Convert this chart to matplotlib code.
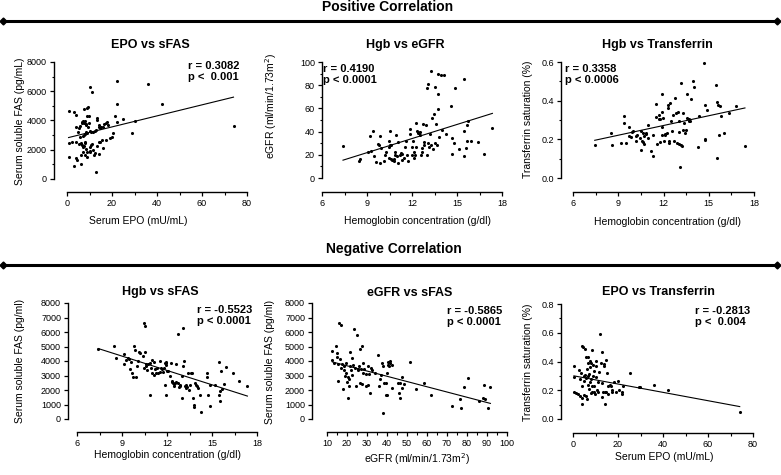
import matplotlib
matplotlib.use("Agg")
import matplotlib.pyplot as plt
from matplotlib.lines import Line2D
from matplotlib.ticker import MultipleLocator
import numpy as np

plt.rcParams['font.family'] = ['Liberation Sans', 'DejaVu Sans']

# ---------------- data ----------------
# Panel 1: EPO vs sFAS
p1_x = [0.7, 3.2, 4.0, 0.7, 2.4, 4.1, 5.3, 6.2, 6.8, 7.8, 8.1, 0.7, 4.1, 4.4, 6.3, 6.3, 3.2, 4.1, 4.7, 5.5,
        5.9, 6.5, 6.8, 7.1, 7.4, 8.0, 8.3, 8.6, 9.2, 9.6, 8.9, 9.7, 7.7, 8.9, 9.2, 10.3, 11.2, 5.9, 6.9, 7.4,
        7.8, 8.3, 8.9, 10.3, 10.8, 11.5, 12.3, 12.8, 13.3, 13.4, 14.0, 14.3, 14.8, 15.1, 15.8, 16.5, 17.3, 17.7, 18.0, 7.1,
        7.7, 8.6, 8.9, 10.0, 10.3, 10.6, 11.1, 11.4, 12.3, 13.3, 14.0, 14.8, 15.5, 16.2, 17.3, 19.2, 19.9, 20.4, 7.1, 8.0,
        8.9, 10.3, 12.1, 14.2, 13.0, 22.1, 22.1, 21.5, 22.1, 25.1, 30.0, 28.8, 36.2, 42.2, 74.0]
p1_y = [4663, 4549, 4343, 2446, 2560, 2514, 2377, 2446, 2331, 2446, 2514, 1531, 1417, 1280, 1646, 1029, 891, 3589, 3246, 3520,
        3657, 3817, 3931, 3977, 3817, 3977, 3749, 3703, 3589, 3817, 4274, 4297, 4800, 4846, 4914, 6286, 5920, 2903, 2949, 3017,
        3063, 3246, 3131, 3291, 3200, 3200, 3269, 3360, 4160, 4046, 3703, 3589, 3474, 3589, 3589, 3749, 3817, 3931, 3703, 2217,
        2263, 2057, 1874, 1920, 2217, 2331, 2377, 1989, 1760, 2286, 2560, 2514, 2674, 2103, 2674, 2789, 2903, 3131, 1874, 1646,
        1509, 1829, 1646, 1737, 503, 6720, 5120, 4274, 3931, 4114, 3977, 3131, 6514, 5143, 3657]
p1_fit = [37.7, 2808]  # slope, intercept

# Panel 2: Hgb vs eGFR
p2_x = [7.40, 8.49, 8.56, 9.09, 9.27, 9.20, 9.40, 9.49, 9.62, 9.76, 9.80, 9.89, 9.89, 9.93, 10.16, 10.22, 10.29, 10.47,
        10.47, 10.51, 10.49, 10.56, 10.60, 10.62, 10.69, 10.78, 10.82, 10.87, 10.89, 10.96, 10.98, 11.04, 11.09, 11.18,
        11.27, 11.31, 11.36, 11.47, 11.53, 11.58, 11.67, 11.76, 11.84, 11.89, 11.98, 11.98, 12.07, 12.11, 12.13, 12.22,
        12.24, 12.29, 12.33, 12.38, 12.42, 12.47, 12.51, 12.53, 12.60, 12.64, 12.64, 12.73, 12.82, 12.82, 12.96, 13.0,
        13.02, 13.04, 13.09, 13.13, 13.18, 13.27, 13.27, 13.31, 13.38, 13.44, 13.53, 13.53, 13.60, 13.67, 13.73, 13.76,
        13.76, 13.8, 13.93, 13.98, 14.16, 14.24, 14.6, 14.64, 14.67, 14.78, 14.87, 15.16, 15.44, 15.44, 15.49, 15.58,
        15.67, 15.76, 15.67, 15.93, 16.38, 16.82, 17.36]
p2_y = [27.3, 14.9, 16.4, 22.1, 23.0, 35.9, 40.8, 19.3, 13.8, 29.3, 28.2, 12.9, 35.9, 25.9, 14.9, 20.1, 22.1, 17.0,
        31.9, 40.2, 26.4, 28.2, 16.4, 28.7, 15.5, 16.7, 14.9, 20.1, 22.7, 36.8, 19.3, 12.9, 30.7, 20.1,
        21.6, 20.7, 15.5, 17.0, 27.0, 32.2, 19.8, 14.9, 37.9, 42.5, 27.0, 20.1, 32.2, 22.1, 17.2, 20.1,
        27.0, 47.4, 40.5, 39.4, 38.5, 38.5, 39.7, 37.4, 20.1, 25.9, 22.4, 46.6, 31.0, 28.2, 46.0, 20.1,
        77.6, 81.0, 30.5, 27.0, 37.9, 92.5, 28.7, 51.7, 25.3, 55.5, 78.7, 30.2, 46.6, 28.2, 89.9, 72.4,
        59.2, 35.1, 89.1, 41.7, 89.1, 37.9, 61.8, 34.5, 21.0, 30.2, 77.6, 25.0, 85.6, 40.5, 19.3, 26.1,
        45.4, 48.9, 32.2, 32.2, 31.0, 21.0, 43.1]
p2_fit = [4.05, -14.6]

# Panel 3: Hgb vs Transferrin saturation
p3_x = [7.44, 8.50, 8.61, 9.21, 9.37, 9.41, 9.50, 9.70, 9.74, 9.85, 9.90, 9.98, 10.16, 10.18, 10.27, 10.41, 10.49,
        10.52, 10.56, 10.65, 10.67, 10.72, 10.74, 10.83, 10.87, 10.96, 11.0, 11.18, 11.29, 11.29, 11.49, 11.53, 11.58,
        11.67, 11.71, 11.76, 11.78, 11.87, 11.89, 11.89, 11.93, 11.98, 12.0, 12.09, 12.13, 12.24, 12.29, 12.33, 12.35,
        12.38, 12.46, 12.51, 12.55, 12.62, 12.69, 12.77, 12.86, 12.91, 12.95, 13.0, 13.04, 13.04, 13.11, 13.13, 13.15,
        13.2, 13.26, 13.31, 13.39, 13.44, 13.5, 13.53, 13.57, 13.66, 13.7, 13.79, 13.84, 13.97, 14.01, 14.32, 14.37,
        14.68, 14.72, 14.72, 14.77, 14.9, 15.48, 15.52, 15.56, 15.61, 15.7, 15.74, 15.79, 15.98, 16.36, 16.83, 17.4]
p3_y = [0.172, 0.233, 0.172, 0.183, 0.322, 0.284, 0.183, 0.266, 0.217, 0.210, 0.238, 0.243, 0.193, 0.217, 0.224, 0.207, 0.241,
        0.143, 0.190, 0.186, 0.233, 0.216, 0.176, 0.228, 0.233, 0.272, 0.207, 0.141, 0.224, 0.114, 0.383, 0.314, 0.176,
        0.324, 0.307, 0.186, 0.303, 0.224, 0.434, 0.262, 0.341, 0.310, 0.193, 0.228, 0.224, 0.231, 0.376, 0.362, 0.183,
        0.193, 0.390, 0.293, 0.241, 0.326, 0.193, 0.412, 0.334, 0.183, 0.341, 0.236, 0.176, 0.293, 0.055, 0.491, 0.172,
        0.164, 0.338, 0.250, 0.284, 0.234, 0.248, 0.434, 0.309, 0.305, 0.297, 0.297, 0.409, 0.503, 0.471, 0.160, 0.322,
        0.593, 0.197, 0.203, 0.379, 0.353, 0.483, 0.103, 0.393, 0.379, 0.224, 0.372, 0.322, 0.234, 0.334, 0.372, 0.164]
p3_fit = [0.0168, 0.070]

# Panel 4: Hgb vs sFAS
p4_x = [7.42, 8.49, 8.6, 9.11, 9.16, 9.27, 9.38, 9.44, 9.51, 9.6, 9.69, 9.73, 9.78, 9.87, 9.91, 10.0, 10.04, 10.13,
        10.22, 10.38, 10.49, 10.44, 10.51, 10.53, 10.58, 10.62, 10.67, 10.76, 10.84, 10.89, 10.93, 10.98, 11.02, 11.11,
        11.16, 11.2, 11.29, 11.33, 11.42, 11.51, 11.56, 11.6, 11.67, 11.73, 11.82, 11.87, 11.89, 11.91, 11.93, 11.96,
        11.91, 12.0, 12.09, 12.22, 12.27, 12.31, 12.36, 12.4, 12.44, 12.49, 12.53, 12.58, 12.62, 12.71, 12.71, 12.8,
        12.84, 12.89, 12.98, 13.02, 13.07, 13.07, 13.16, 13.2, 13.24, 13.29, 13.33, 13.42, 13.49, 13.51, 13.6, 13.69,
        13.73, 13.78, 13.78, 13.87, 13.91, 14.0, 14.04, 14.22, 14.27, 14.67, 14.67, 14.71, 14.89, 14.89, 15.2, 15.47,
        15.47, 15.51, 15.56, 15.6, 15.64, 15.78, 15.96, 16.38, 16.82, 17.36]
p4_y = [4859, 5065, 4217, 3759, 4515, 4103, 4217, 4149, 3461, 3919, 3140, 2888, 5065, 4744, 2865, 3644, 3988, 4607,
        4561, 4378, 3530, 6624, 6441, 4653, 3644, 3759, 3369, 3759, 3873, 1627, 3530, 3140, 4103, 3919,
        3048, 3415, 3186, 3530, 3140, 3988, 3232, 3484, 3461, 3232, 3530, 3873, 2315, 3690, 3919, 3828,
        1673, 3300, 3278, 2957, 3873, 2544, 2613, 2452, 2407, 2269, 2452, 3759, 2544, 5890, 2452, 2223,
        2361, 2269, 1467, 2957, 6257, 3644, 3988, 2269, 2132, 2361, 2223, 3140, 1994, 2361, 3186, 3140,
        1467, 986, 825, 2452, 2361, 2269, 2132, 1627, 481, 3140, 2888, 1673, 894, 2315, 2315, 3919,
        1673, 1238, 1925, 3300, 2086, 2384, 3598, 3140, 2613, 2269]
p4_fit = [-329.7, 7305]

# Panel 5: eGFR vs sFAS
p5_x = [12.7, 12.7, 13.7, 14.7, 14.8, 15.2, 15.3, 15.7, 16.2, 16.7, 16.8, 17.0, 17.3, 17.8, 18.3, 18.7, 19.0, 19.3,
        19.7, 20.0, 20.3, 20.7, 20.8, 21.0, 21.3, 21.7, 22.0, 22.3, 22.7, 22.8, 23.7, 24.0, 24.5, 25.0, 25.3, 25.7,
        26.0, 26.5, 26.7, 27.0, 27.3, 27.7, 27.8, 28.2, 28.5, 29.3, 29.7, 30.3, 30.7, 31.0, 31.7, 32.0, 32.3, 34.0,
        35.7, 36.0, 36.3, 37.0, 37.7, 37.8, 38.2, 38.7, 39.3, 39.7, 40.0, 40.0, 40.3, 40.7, 41.0, 41.3, 41.7, 42.3,
        42.7, 45.7, 46.0, 46.3, 46.7, 47.3, 47.7, 48.3, 51.7, 54.7, 58.7, 62.0, 72.3, 76.5, 77.0, 78.7, 80.7, 86.0,
        88.2, 88.3, 89.0, 90.7, 91.7]
p5_y = [4722, 4103, 3873, 5019, 4561, 4263, 2613, 3759, 6624, 4149, 6463, 3530, 3759, 2086, 3644, 3369, 2957, 3873,
        3140, 2544, 2911, 1467, 2269, 2773, 3644, 4607, 3369, 4217, 3025, 3690, 6211, 3530, 2269, 5822, 3461, 3369,
        3644, 4836, 2452, 3461, 5065, 2384, 3828, 3140, 3461, 2269, 3071, 2315, 3644, 3071, 1765, 3530, 3369, 3186,
        4424, 2269, 2773, 3025, 3873, 435, 3644, 2498, 2452, 1627, 1627, 3186, 3690, 3965, 3644, 3988, 3828, 3690,
        2132, 2452, 1811, 2452, 1467, 2154, 2911, 2384, 3919, 2086, 2452, 1627, 894, 1398, 779, 2223, 2842, 1238,
        1467, 2361, 1352, 779, 2223]
p5_fit = [-36.2, 4395]

# Panel 6: EPO vs Transferrin saturation
p6_x = [0.4, 0.4, 0.4, 1.5, 2.4, 2.7, 3.0, 3.3, 3.6, 3.9, 3.9, 4.0, 4.1, 4.4, 4.7, 4.9, 5.0, 5.3, 5.3, 5.6, 5.9,
        5.9, 6.2, 6.2, 6.5, 6.5, 6.8, 6.8, 7.1, 7.1, 7.4, 7.6, 7.7, 7.9, 8.0, 8.0, 8.3, 8.3, 8.6, 8.7, 8.9, 9.2,
        9.2, 9.5, 9.8, 10.1, 10.1, 10.4, 10.7, 11.0, 11.3, 11.6, 12.1, 12.4, 12.7, 13.0, 13.0, 13.3, 13.6, 13.9,
        14.2, 14.2, 14.5, 14.8, 15.1, 15.4, 15.7, 16.3, 16.7, 17.2, 17.5, 18.2, 19.3, 19.9, 20.4, 21.6, 21.9, 22.2,
        25.2, 29.3, 29.9, 36.1, 42.1, 74.1]
p6_y = [0.370, 0.294, 0.190, 0.180, 0.173, 0.342, 0.277, 0.162, 0.319, 0.509, 0.231, 0.104, 0.143, 0.504, 0.296,
        0.166, 0.266, 0.490, 0.305, 0.282, 0.428, 0.162, 0.351, 0.139, 0.393, 0.301, 0.236, 0.428, 0.312, 0.208,
        0.365, 0.259, 0.405, 0.393, 0.277, 0.180, 0.481, 0.190, 0.231, 0.375, 0.301, 0.335, 0.185, 0.227, 0.173,
        0.405, 0.370, 0.289, 0.203, 0.259, 0.185, 0.324, 0.590, 0.388, 0.250, 0.467, 0.150, 0.190, 0.370, 0.382,
        0.190, 0.104, 0.185, 0.412, 0.317, 0.173, 0.231, 0.236, 0.231, 0.190, 0.199, 0.254, 0.185, 0.266, 0.203,
        0.173, 0.185, 0.231, 0.317, 0.220, 0.220, 0.238, 0.199, 0.046]
p6_fit = [-0.0029, 0.3013]

titles = ["EPO vs sFAS", "Hgb vs eGFR", "Hgb vs Transferrin",
          "Hgb vs sFAS", "eGFR vs sFAS", "EPO vs Transferrin"]
stats = ["r = 0.3082\np <  0.001", "r = 0.4190\np < 0.0001", "r = 0.3358\np < 0.0006",
         "r = -0.5523\np < 0.0001", "r = -0.5865\np < 0.0001", "r = -0.2813\np <  0.004"]
xlabels = ["Serum EPO (mU/mL)", "Hemoglobin concentration (g/dl)", "Hemoglobin concentration (g/dl)",
           "Hemoglobin concentration (g/dl)", "eGFR (ml/min/1.73m$^2$)", "Serum EPO (mU/mL)"]
ylabels = ["Serum soluble FAS (pg/mL)", "eGFR (ml/min/1.73m$^2$)", "Transferrin saturation (%)",
           "Serum soluble FAS (pg/ml)", "Serum soluble FAS (pg/ml)", "Transferrin saturation (%)"]
headers = ["Positive Correlation", "Negative Correlation"]

# ---------------- layout ----------------
W, H = 781, 475
fig = plt.figure(figsize=(W / 100, H / 100), dpi=100)


def fx(x):
    return x / W


def fy(y):
    return 1 - y / H


panels = [
    dict(x=p1_x, y=p1_y, fit=p1_fit, box=(67, 247, 62, 179), xlim=(0, 80), ylim=(0, 8000),
         xmaj=20, xmin=10, ymaj=2000, ymin=1000, off=(9.4, 9.4),
         title=(150, 45), stat=(188, 61), xl=(138, 221), yl=(20, 121)),
    dict(x=p2_x, y=p2_y, fit=p2_fit, box=(322, 502, 62, 178), xlim=(6, 18), ylim=(0, 100),
         xmaj=3, xmin=1.5, ymaj=20, ymin=10, off=(0, 10),
         title=(405, 45), stat=(323, 64), xl=(417, 221), yl=(271, 106)),
    dict(x=p3_x, y=p3_y, fit=p3_fit, box=(573, 754, 62, 178), xlim=(6, 18), ylim=(0, 0.6),
         xmaj=3, xmin=1.5, ymaj=0.2, ymin=0.1, off=(8.6, 10),
         title=(657, 45), stat=(565, 64), xl=(668, 222), yl=(528, 119)),
    dict(x=p4_x, y=p4_y, fit=p4_fit, box=(77, 257, 303, 419), xlim=(6, 18), ylim=(0, 8000),
         xmaj=3, xmin=1.5, ymaj=1000, ymin=None, off=(6.5, 9.4),
         title=(160, 292), stat=(197, 305), xl=(167, 455), yl=(20, 361)),
    dict(x=p5_x, y=p5_y, fit=p5_fit, box=(327, 507, 303, 419), xlim=(10, 100), ylim=(0, 8000),
         xmaj=10, xmin=5, ymaj=1000, ymin=None, off=(10.8, 9.4),
         title=(410, 293), stat=(447, 306), xl=(417, 459), yl=(270, 362)),
    dict(x=p6_x, y=p6_y, fit=p6_fit, box=(573, 753, 304, 419), xlim=(0, 80), ylim=(0, 0.8),
         xmaj=20, xmin=10, ymaj=0.2, ymin=0.1, off=(8.6, 10),
         title=(658, 292), stat=(695, 306), xl=(664, 457), yl=(528, 362)),
]

for i, p in enumerate(panels):
    x0, x1, y0, y1 = p['box']
    ax = fig.add_axes([fx(x0), fy(y1), (x1 - x0) / W, (y1 - y0) / H])
    ax.set_facecolor('none')
    ax.patch.set_visible(False)
    ax.scatter(p['x'], p['y'], s=5, color='black', linewidths=0, zorder=3, clip_on=False)
    xs = np.array([min(p['x']), max(p['x'])])
    ax.plot(xs, p['fit'][0] * xs + p['fit'][1], color='black', lw=0.8, zorder=2)
    ax.set_xlim(*p['xlim'])
    ax.set_ylim(*p['ylim'])
    for s in ['top', 'right']:
        ax.spines[s].set_visible(False)
    ax.spines['left'].set_position(('outward', p['off'][0]))
    ax.spines['bottom'].set_position(('outward', p['off'][1]))
    for s in ['left', 'bottom']:
        ax.spines[s].set_linewidth(1.0)
        ax.spines[s].set_color('black')
    ax.xaxis.set_major_locator(MultipleLocator(p['xmaj']))
    ax.xaxis.set_minor_locator(MultipleLocator(p['xmin']))
    ax.yaxis.set_major_locator(MultipleLocator(p['ymaj']))
    if p['ymin']:
        ax.yaxis.set_minor_locator(MultipleLocator(p['ymin']))
    ax.tick_params(which='major', length=3, width=0.9, labelsize=6.5, pad=2, color='black')
    ax.tick_params(which='minor', length=1.8, width=0.8, color='black')
    if p['ylim'][1] < 1:
        ax.yaxis.set_major_formatter(matplotlib.ticker.FormatStrFormatter('%.1f'))

    fig.text(fx(p['title'][0]), fy(p['title'][1]), titles[i], ha='center', va='center',
             fontsize=9, fontweight='bold')
    fig.text(fx(p['stat'][0]), fy(p['stat'][1]), stats[i], ha='left', va='top',
             fontsize=8, fontweight='bold', linespacing=1.15)
    fig.text(fx(p['xl'][0]), fy(p['xl'][1]), xlabels[i], ha='center', va='center', fontsize=7.5)
    fig.text(fx(p['yl'][0]), fy(p['yl'][1]), ylabels[i], ha='center', va='center',
             fontsize=7.5, rotation=90)

# headers and separator lines
fig.text(fx(388), fy(7), headers[0], ha='center', va='center', fontsize=10, fontweight='bold')
fig.text(fx(394), fy(249), headers[1], ha='center', va='center', fontsize=10, fontweight='bold')
for yy in (21, 265):
    fig.add_artist(Line2D([fx(3), fx(777)], [fy(yy), fy(yy)], transform=fig.transFigure,
                          color='black', lw=2.2, marker='D', markersize=3.5,
                          markevery=[0, 1]))

fig.savefig("out.png", dpi=100)
